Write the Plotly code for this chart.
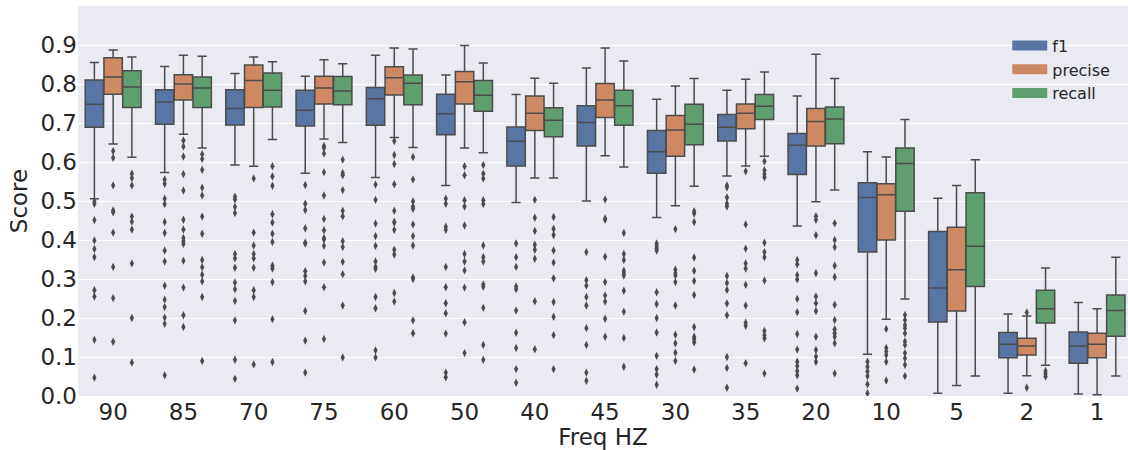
import plotly.graph_objects as go

categories = ["90", "85", "70", "75", "60", "50", "40", "45", "30", "35", "20", "10", "5", "2", "1"]
series_names = ["f1", "precise", "recall"]

f1_lower = [0.506, 0.573, 0.592, 0.571, 0.560, 0.540, 0.496, 0.500, 0.458, 0.564, 0.436, 0.107, 0.007, 0.007, 0.005]
f1_q1 = [0.689, 0.697, 0.695, 0.692, 0.694, 0.670, 0.590, 0.641, 0.571, 0.654, 0.568, 0.369, 0.190, 0.098, 0.084]
f1_median = [0.748, 0.754, 0.737, 0.733, 0.762, 0.724, 0.653, 0.701, 0.626, 0.689, 0.643, 0.509, 0.277, 0.133, 0.128]
f1_q3 = [0.810, 0.785, 0.785, 0.784, 0.791, 0.774, 0.690, 0.744, 0.681, 0.722, 0.673, 0.547, 0.422, 0.163, 0.164]
f1_upper = [0.855, 0.845, 0.827, 0.820, 0.874, 0.823, 0.773, 0.841, 0.761, 0.784, 0.769, 0.626, 0.507, 0.210, 0.240]

precise_lower = [0.646, 0.671, 0.589, 0.659, 0.663, 0.636, 0.559, 0.616, 0.488, 0.590, 0.498, 0.197, 0.027, 0.052, 0.003]
precise_q1 = [0.774, 0.759, 0.740, 0.749, 0.772, 0.749, 0.681, 0.714, 0.615, 0.685, 0.641, 0.400, 0.218, 0.105, 0.098]
precise_median = [0.818, 0.800, 0.809, 0.790, 0.816, 0.806, 0.725, 0.759, 0.682, 0.725, 0.704, 0.516, 0.324, 0.128, 0.133]
precise_q3 = [0.867, 0.824, 0.849, 0.820, 0.844, 0.832, 0.769, 0.801, 0.719, 0.749, 0.737, 0.544, 0.433, 0.148, 0.161]
precise_upper = [0.887, 0.874, 0.869, 0.862, 0.892, 0.899, 0.815, 0.892, 0.795, 0.812, 0.876, 0.613, 0.540, 0.205, 0.224]

recall_lower = [0.612, 0.636, 0.658, 0.650, 0.637, 0.624, 0.559, 0.587, 0.538, 0.615, 0.528, 0.249, 0.051, 0.079, 0.051]
recall_q1 = [0.740, 0.740, 0.741, 0.747, 0.747, 0.730, 0.665, 0.694, 0.644, 0.709, 0.647, 0.474, 0.281, 0.187, 0.153]
recall_median = [0.792, 0.790, 0.784, 0.782, 0.802, 0.771, 0.707, 0.744, 0.697, 0.743, 0.710, 0.596, 0.384, 0.224, 0.219]
recall_q3 = [0.834, 0.818, 0.828, 0.819, 0.823, 0.809, 0.739, 0.784, 0.748, 0.773, 0.741, 0.636, 0.521, 0.271, 0.259]
recall_upper = [0.869, 0.871, 0.857, 0.852, 0.890, 0.854, 0.802, 0.859, 0.814, 0.831, 0.814, 0.709, 0.606, 0.328, 0.356]

f1_outliers = [
    [0.499, 0.493, 0.451, 0.399, 0.377, 0.356, 0.271, 0.255, 0.144, 0.047],
    [0.555, 0.544, 0.506, 0.492, 0.446, 0.418, 0.373, 0.345, 0.283, 0.247, 0.228, 0.201, 0.185, 0.053],
    [0.511, 0.504, 0.485, 0.469, 0.364, 0.353, 0.329, 0.291, 0.274, 0.244, 0.194, 0.093, 0.044],
    [0.541, 0.493, 0.477, 0.430, 0.393, 0.391, 0.320, 0.308, 0.294, 0.218, 0.142, 0.060],
    [0.542, 0.503, 0.442, 0.410, 0.385, 0.345, 0.331, 0.326, 0.254, 0.225, 0.117, 0.099],
    [0.506, 0.493, 0.434, 0.426, 0.331, 0.279, 0.238, 0.212, 0.160, 0.060, 0.048],
    [0.391, 0.356, 0.331, 0.281, 0.274, 0.219, 0.162, 0.123, 0.069, 0.034],
    [0.369, 0.297, 0.283, 0.254, 0.232, 0.174, 0.131, 0.060, 0.039],
    [0.391, 0.385, 0.379, 0.373, 0.266, 0.236, 0.200, 0.163, 0.103, 0.069, 0.055, 0.029],
    [0.540, 0.535, 0.509, 0.493, 0.486, 0.308, 0.290, 0.272, 0.237, 0.207, 0.100, 0.072, 0.021],
    [0.349, 0.338, 0.310, 0.299, 0.249, 0.215, 0.159, 0.119, 0.088, 0.077, 0.064, 0.053, 0.019],
    [0.088, 0.075, 0.063, 0.051, 0.030, 0.007],
    [],
    [],
    [],
]
precise_outliers = [
    [0.628, 0.611, 0.540, 0.476, 0.471, 0.419, 0.331, 0.251, 0.139],
    [0.655, 0.640, 0.614, 0.569, 0.527, 0.452, 0.427, 0.405, 0.397, 0.390, 0.347, 0.278, 0.207, 0.177],
    [0.558, 0.419, 0.386, 0.364, 0.353, 0.329, 0.271, 0.254, 0.081],
    [0.641, 0.636, 0.622, 0.574, 0.514, 0.454, 0.425, 0.405, 0.401, 0.385, 0.342, 0.279, 0.146],
    [0.654, 0.618, 0.595, 0.543, 0.475, 0.447, 0.444, 0.426, 0.375, 0.363, 0.264, 0.242],
    [0.589, 0.566, 0.502, 0.486, 0.437, 0.364, 0.345, 0.322, 0.278, 0.189, 0.110],
    [0.503, 0.457, 0.423, 0.388, 0.375, 0.352, 0.243, 0.120],
    [0.504, 0.455, 0.452, 0.357, 0.292, 0.258, 0.242, 0.198, 0.152],
    [0.428, 0.324, 0.315, 0.309, 0.292, 0.232, 0.157, 0.135, 0.111, 0.090],
    [0.576, 0.440, 0.378, 0.340, 0.327, 0.285, 0.232, 0.188, 0.180, 0.084],
    [0.461, 0.452, 0.412, 0.315, 0.255, 0.238, 0.218, 0.152, 0.118, 0.101, 0.088],
    [0.172, 0.123, 0.114, 0.105, 0.088, 0.040],
    [],
    [0.214, 0.021],
    [],
]
recall_outliers = [
    [0.570, 0.559, 0.540, 0.460, 0.447, 0.427, 0.340, 0.200, 0.086],
    [0.620, 0.608, 0.580, 0.534, 0.514, 0.460, 0.416, 0.349, 0.330, 0.311, 0.294, 0.254, 0.090],
    [0.589, 0.563, 0.539, 0.466, 0.445, 0.416, 0.395, 0.334, 0.327, 0.292, 0.197, 0.087],
    [0.606, 0.572, 0.566, 0.528, 0.475, 0.461, 0.397, 0.382, 0.344, 0.312, 0.232, 0.099],
    [0.613, 0.555, 0.499, 0.486, 0.480, 0.440, 0.410, 0.386, 0.304, 0.300, 0.194, 0.161],
    [0.592, 0.570, 0.558, 0.502, 0.492, 0.386, 0.356, 0.345, 0.286, 0.280, 0.226, 0.131, 0.093],
    [0.459, 0.429, 0.413, 0.373, 0.342, 0.302, 0.241, 0.203, 0.156, 0.069],
    [0.418, 0.364, 0.349, 0.321, 0.315, 0.309, 0.270, 0.216, 0.149, 0.075],
    [0.474, 0.468, 0.446, 0.355, 0.321, 0.295, 0.259, 0.177, 0.152, 0.146, 0.138, 0.068],
    [0.602, 0.579, 0.569, 0.561, 0.393, 0.369, 0.356, 0.296, 0.167, 0.156, 0.148, 0.058],
    [0.443, 0.400, 0.382, 0.334, 0.305, 0.234, 0.195, 0.171, 0.161, 0.152, 0.135, 0.058],
    [0.208, 0.195, 0.182, 0.174, 0.161, 0.140, 0.131, 0.110, 0.097, 0.080, 0.051],
    [],
    [0.064, 0.057, 0.050],
    [],
]

fill_colors = ["#5875a4", "#cc8963", "#5f9e6e"]
edge_gray = "#4c4c4c"
text_color = "#262626"

stats = [
    (f1_lower, f1_q1, f1_median, f1_q3, f1_upper, f1_outliers),
    (precise_lower, precise_q1, precise_median, precise_q3, precise_upper, precise_outliers),
    (recall_lower, recall_q1, recall_median, recall_q3, recall_upper, recall_outliers),
]

n_hue = len(series_names)
group_width = 0.8
slot = group_width / n_hue
box_width = slot * 0.98

fig = go.Figure()
idx = list(range(len(categories)))
for h, (name, (lo, q1, med, q3, hi, outs)) in enumerate(zip(series_names, stats)):
    offset = -group_width / 2 + slot * (h + 0.5)
    xs = [i + offset for i in idx]
    fig.add_trace(go.Box(
        x=xs, q1=q1, median=med, q3=q3, lowerfence=lo, upperfence=hi,
        width=box_width, whiskerwidth=0.5,
        fillcolor=fill_colors[h],
        line=dict(color=edge_gray, width=1.5),
        boxpoints=False, showlegend=False, name=name, hoverinfo="skip",
    ))
    ox, oy = [], []
    for i, vals in enumerate(outs):
        for v in vals:
            ox.append(i + offset)
            oy.append(v)
    fig.add_trace(go.Scatter(
        x=ox, y=oy, mode="markers", showlegend=False, hoverinfo="skip",
        marker=dict(symbol="diamond-tall", size=6, color=edge_gray, line=dict(width=0)),
    ))

# legend proxies
for h, name in enumerate(series_names):
    fig.add_trace(go.Scatter(
        x=[None], y=[None], mode="lines", name=name,
        line=dict(color=fill_colors[h], width=10),
    ))

fig.update_layout(
    width=1128, height=450,
    margin=dict(l=78, r=0, t=6, b=54, autoexpand=False),
    paper_bgcolor="white",
    plot_bgcolor="#eaeaf2",
    font=dict(family="DejaVu Sans", color=text_color, size=23),
    showlegend=True,
    legend=dict(
        x=0.885, y=0.942, xanchor="left", yanchor="top",
        bgcolor="rgba(0,0,0,0)", font=dict(size=16, color=text_color),
        itemwidth=35, tracegroupgap=0,
    ),
    xaxis=dict(
        range=[-0.5, 14.44], tickmode="array", tickvals=idx, ticktext=categories,
        showgrid=False, zeroline=False, showline=False, ticks="", automargin=False,
        tickfont=dict(size=23, color=text_color),
        title=dict(text="Freq HZ", font=dict(size=23, color=text_color), standoff=0),
    ),
    yaxis=dict(
        range=[0, 1.0], tickmode="array",
        tickvals=[0.0, 0.1, 0.2, 0.3, 0.4, 0.5, 0.6, 0.7, 0.8, 0.9],
        ticktext=["0.0", "0.1", "0.2", "0.3", "0.4", "0.5", "0.6", "0.7", "0.8", "0.9"],
        showgrid=True, gridcolor="white", gridwidth=1, zeroline=False, showline=False,
        ticks="", automargin=False, tickfont=dict(size=23, color=text_color),
        title=dict(text="Score", font=dict(size=23, color=text_color), standoff=6),
    ),
)

fig.write_html(
    "out.html",
    config={"displayModeBar": False},
    post_script="document.body.style.margin='0';document.body.style.overflow='hidden';",
)
